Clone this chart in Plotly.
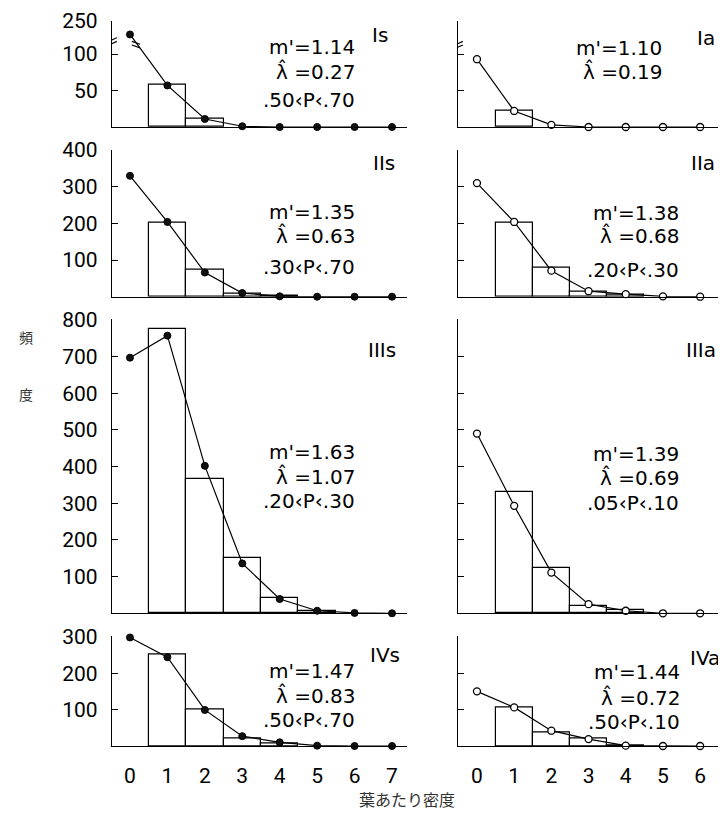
import plotly.graph_objects as go

# page is 726x827; the html body has an 8px margin, so the figure is drawn 8px in
OFF = 8
W, H = 726 - OFF, 827 - OFF

# ---------------- data ----------------
classes_s = [0, 1, 2, 3, 4, 5, 6, 7]
classes_a = [0, 1, 2, 3, 4, 5, 6]

Is_pts = [168, 57, 11, 1, 0, 0, 0, 0]
Is_bars = [58, 11]
Ia_pts = [93, 22, 3, 0, 0, 0, 0]
Ia_bars = [22]
IIs_pts = [330, 204, 66, 10, 1, 0, 0, 0]
IIs_bars = [203, 73, 9, 2]
IIa_pts = [310, 204, 71, 15, 7, 1, 0]
IIa_bars = [202, 80, 14, 5]
IIIs_pts = [697, 757, 402, 136, 39, 7, 1, 0]
IIIs_bars = [775, 365, 150, 42, 5]
IIIa_pts = [490, 293, 111, 25, 7, 0, 0]
IIIa_bars = [331, 124, 20, 8]
IVs_pts = [298, 244, 99, 27, 10, 1, 0, 0]
IVs_bars = [251, 101, 20, 8]
IVa_pts = [150, 106, 42, 19, 1, 0, 0]
IVa_bars = [105, 38, 22, 3]

panel_names = ["Is", "Ia", "IIs", "IIa", "IIIs", "IIIa", "IVs", "IVa"]
LAM = "\u03bb\u0302"
stats = [
    ["m'=1.14", LAM + " =0.27", ".50\u2039P\u2039.70"],
    ["m'=1.10", LAM + " =0.19"],
    ["m'=1.35", LAM + " =0.63", ".30\u2039P\u2039.70"],
    ["m'=1.38", LAM + " =0.68", ".20\u2039P\u2039.30"],
    ["m'=1.63", LAM + " =1.07", ".20\u2039P\u2039.30"],
    ["m'=1.39", LAM + " =0.69", ".05\u2039P\u2039.10"],
    ["m'=1.47", LAM + " =0.83", ".50\u2039P\u2039.70"],
    ["m'=1.44", LAM + " =0.72", ".50\u2039P\u2039.10"],
]

# y tick values per row
row_ticks = [[50, 100, 250], [100, 200, 300, 400],
             [100, 200, 300, 400, 500, 600, 700, 800], [100, 200, 300]]
row_top = [250, 400, 800, 300]

# broken axis for row I (values above BREAK_LO compressed)
BREAK_LO = 115
TOP_DISP = 145.4


def brk(v):
    if v <= BREAK_LO:
        return v
    return BREAK_LO + (v - BREAK_LO) * (TOP_DISP - BREAK_LO) / (250 - BREAK_LO)


# ---------------- layout geometry (page pixels) ----------------
rows_px = [(21, 127), (150, 296.7), (319.3, 613.3), (636.7, 746)]
left_px = (112, 407)
right_px = (458, 718)
left_range = [-0.48, 7.4]
right_range = [-0.51, 6.48]

FONT = "Roboto"
SFONT = "DejaVu Sans"


def fx(px):
    return (px - OFF) / W


def fy(py):
    return 1 - (py - OFF) / H


fig = go.Figure()
layout = dict(width=W, height=H, margin=dict(l=0, r=0, t=0, b=0, autoexpand=False),
              plot_bgcolor="white", paper_bgcolor="white", showlegend=False,
              font=dict(family=FONT, color="black"))

data_sets = [(Is_pts, Is_bars), (Ia_pts, Ia_bars), (IIs_pts, IIs_bars), (IIa_pts, IIa_bars),
             (IIIs_pts, IIIs_bars), (IIIa_pts, IIIa_bars), (IVs_pts, IVs_bars), (IVa_pts, IVa_bars)]

shapes = []
annotations = []

for i, (pts, bars) in enumerate(data_sets):
    row = i // 2
    is_left = (i % 2 == 0)
    n = i + 1
    xa = "x" if n == 1 else f"x{n}"
    ya = "y" if n == 1 else f"y{n}"
    classes = classes_s if is_left else classes_a
    xpx = left_px if is_left else right_px
    ypx = rows_px[row]

    if row == 0:
        disp_pts = [brk(v) for v in pts]
        disp_bars = [brk(v) for v in bars]
        top = brk(row_top[0])
        tickvals = [brk(v) for v in row_ticks[0]]
    else:
        disp_pts = pts
        disp_bars = bars
        top = row_top[row]
        tickvals = row_ticks[row]
    yrange = [0, top * 1.003]

    fig.add_trace(go.Bar(x=classes[1:1 + len(bars)], y=disp_bars, width=1,
                         marker=dict(color="white", line=dict(color="black", width=1.2)),
                         xaxis=xa, yaxis=ya, hoverinfo="skip"))
    if is_left:
        marker = dict(symbol="circle", size=7, color="#111",
                      line=dict(color="black", width=1))
    else:
        marker = dict(symbol="circle", size=7, color="white",
                      line=dict(color="black", width=1.3))
    fig.add_trace(go.Scatter(x=classes[:len(pts)], y=disp_pts, mode="lines+markers",
                             line=dict(color="black", width=1.2), marker=marker,
                             cliponaxis=False, xaxis=xa, yaxis=ya))

    xkey = "xaxis" if n == 1 else f"xaxis{n}"
    ykey = "yaxis" if n == 1 else f"yaxis{n}"
    layout[xkey] = dict(domain=[fx(xpx[0]), fx(xpx[1])],
                        range=left_range if is_left else right_range,
                        anchor=ya, showline=True, linecolor="black", linewidth=1.2,
                        showgrid=False, zeroline=False, ticks="", automargin=False,
                        tickvals=classes, showticklabels=(row == 3),
                        tickfont=dict(size=21, family=FONT), ticklabelstandoff=11)
    layout[ykey] = dict(domain=[fy(ypx[1]), fy(ypx[0] - 0.3)], range=yrange,
                        anchor=xa, showline=True, linecolor="black", linewidth=1.2,
                        showgrid=False, zeroline=False, ticks="inside", ticklen=6,
                        tickwidth=1.2, tickcolor="black", automargin=False,
                        ticklabeloverflow="allow",
                        tickvals=tickvals, ticktext=[str(v) for v in row_ticks[row]],
                        showticklabels=is_left, tickfont=dict(size=21, family=FONT),
                        ticklabelstandoff=9)

    # stats text
    if is_left:
        right_edge = 357
        line_y = [[47, 72, 100], None, [212, 235, 267], None,
                  [452, 477, 501], None, [671, 695, 720], None][i]
    else:
        right_edge = [None, 664, None, 681, None, 681, None, 682][i]
        line_y = [None, [48, 72], None, [213, 235, 270], None,
                  [454, 478, 503], None, [672, 697, 722]][i]
    for txt, yy in zip(stats[i], line_y):
        annotations.append(dict(text=txt, xref="paper", yref="paper",
                                x=fx(right_edge), y=fy(yy), xanchor="right", yanchor="middle",
                                showarrow=False, font=dict(size=20, family=SFONT)))

    # panel label
    lab_x = [390, 717, 397, 717, 398, 718, 402, 722][i]
    lab_y = [35, 38, 163, 163, 350, 350, 655, 658][i]
    annotations.append(dict(text=panel_names[i], xref="paper", yref="paper",
                            x=fx(lab_x), y=fy(lab_y), xanchor="right", yanchor="middle",
                            showarrow=False, font=dict(size=20, family=SFONT)))

    # axis break marks in row I
    if row == 0:
        ax_x = (left_range if is_left else right_range)[0]
        ybrk = 117 if is_left else 112
        shapes.append(dict(type="rect", xref=xa, yref=ya, x0=ax_x - 0.05, x1=ax_x + 0.05,
                           y0=ybrk - 2.5, y1=ybrk + 2.5, fillcolor="white",
                           line=dict(width=0), layer="above"))
        for dy in (-2.5, 2.5):
            shapes.append(dict(type="line", xref=xa, yref=ya,
                               x0=ax_x - 0.13, x1=ax_x + 0.13,
                               y0=ybrk + dy - 3, y1=ybrk + dy + 3,
                               line=dict(color="black", width=1.2), layer="above"))
        if is_left:
            # break marks on the connecting line near point 0
            for dy in (-2.5, 2.5):
                shapes.append(dict(type="line", xref=xa, yref=ya,
                                   x0=0.05, x1=0.27, y0=113 + dy + 2, y1=113 + dy - 2,
                                   line=dict(color="black", width=1.2), layer="above"))

# axis titles
annotations.append(dict(text="頻", xref="paper", yref="paper", x=fx(17), y=fy(337),
                        showarrow=False, font=dict(size=14, family="Noto Sans CJK JP", color="#333")))
annotations.append(dict(text="度", xref="paper", yref="paper", x=fx(17), y=fy(394),
                        showarrow=False, font=dict(size=14, family="Noto Sans CJK JP", color="#333")))
annotations.append(dict(text="葉あたり密度", xref="paper", yref="paper", x=fx(407), y=fy(813),
                        showarrow=False, font=dict(size=16, family="Noto Sans CJK JP", color="#333")))

layout["shapes"] = shapes
layout["annotations"] = annotations
layout["bargap"] = 0
fig.update_layout(**layout)
fig.write_html("out.html")
